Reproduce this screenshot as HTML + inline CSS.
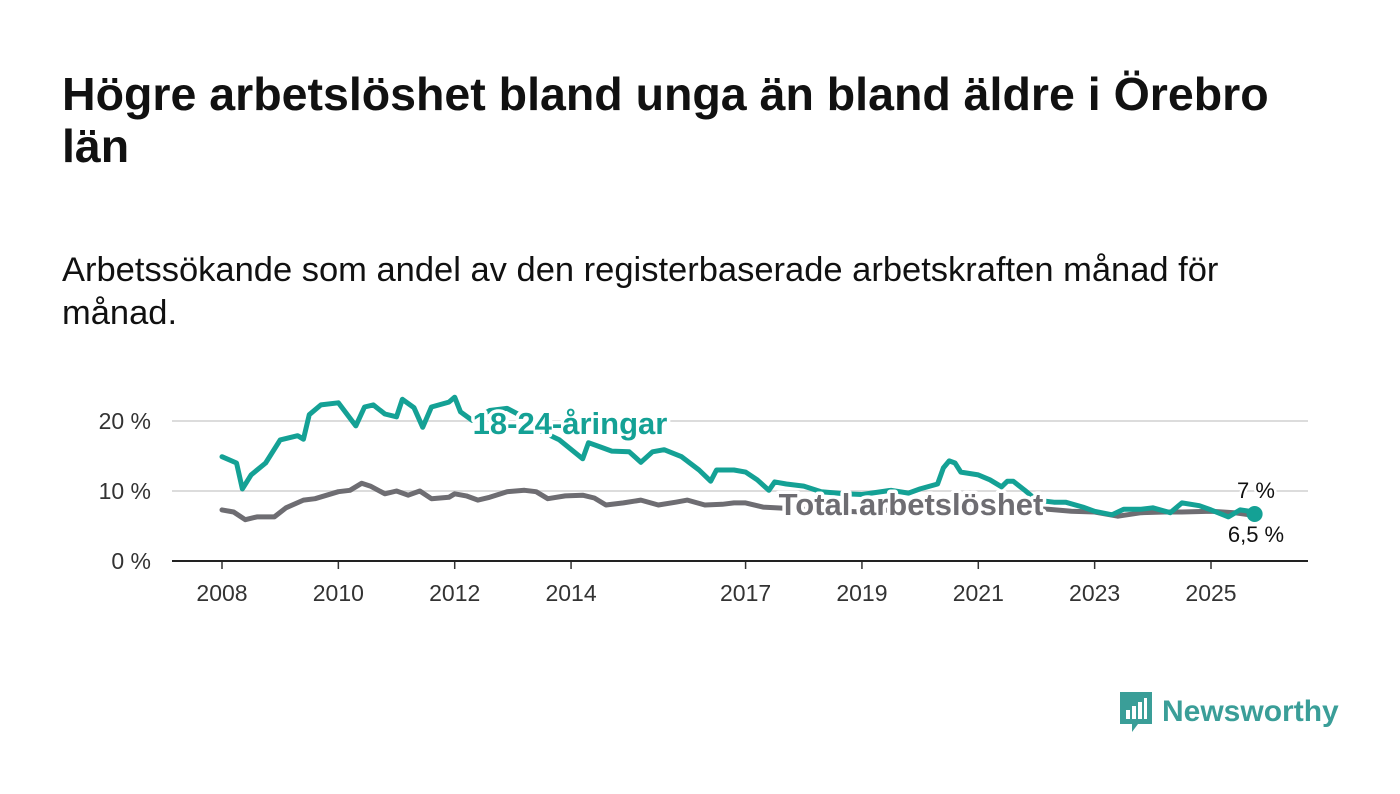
<!DOCTYPE html>
<html><head><meta charset="utf-8">
<style>
body{margin:0;width:1400px;height:794px;background:#fff;font-family:"Liberation Sans",sans-serif;position:relative;overflow:hidden}
h1{position:absolute;left:62px;top:68px;margin:0;font-size:46.5px;line-height:52px;font-weight:bold;color:#111}
p.sub{position:absolute;left:62px;top:249px;margin:0;font-size:34.5px;line-height:43px;color:#111}
svg{position:absolute;left:0;top:0}
.logo{position:absolute;left:1118px;top:690px;display:flex;align-items:center}
</style></head><body>
<h1>Högre arbetslöshet bland unga än bland äldre i Örebro<br>län</h1>
<p class="sub">Arbetssökande som andel av den registerbaserade arbetskraften månad för<br>månad.</p>
<svg id="chart" width="1400" height="794"></svg>
<div class="logo">
<svg width="36" height="44" style="position:static"><path d="M2 2h32v32H20l-6 8v-8H2z" fill="#3a9e98"/><rect x="8" y="20" width="4" height="9" fill="#fff"/><rect x="14" y="16" width="4" height="13" fill="#fff"/><rect x="20" y="12" width="4" height="17" fill="#fff"/><rect x="26" y="8" width="3" height="21" fill="#fff"/></svg>
<span style="font-size:30px;font-weight:bold;color:#3a9e98;margin-left:8px">Newsworthy</span>
</div>
<script>
const youthX=[2008.0,2008.25,2008.35,2008.5,2008.75,2009.0,2009.3,2009.4,2009.5,2009.7,2010.0,2010.3,2010.45,2010.6,2010.8,2011.0,2011.1,2011.3,2011.45,2011.6,2011.9,2012.0,2012.1,2012.3,2012.6,2012.9,2013.2,2013.5,2013.8,2014.2,2014.3,2014.5,2014.7,2015.0,2015.2,2015.4,2015.6,2015.9,2016.2,2016.4,2016.5,2016.8,2017.0,2017.2,2017.4,2017.5,2017.7,2018.0,2018.3,2018.7,2019.0,2019.5,2019.8,2020.0,2020.3,2020.4,2020.5,2020.6,2020.7,2021.0,2021.2,2021.4,2021.5,2021.6,2021.8,2022.0,2022.3,2022.5,2022.8,2023.0,2023.3,2023.5,2023.8,2024.0,2024.3,2024.5,2024.8,2025.0,2025.3,2025.5,2025.75];
const youthV=[14.9,14,10.3,12.3,14,17.3,17.9,17.4,20.9,22.3,22.6,19.3,22,22.3,21,20.6,23.1,21.9,19.1,22,22.7,23.4,21.3,20.1,21.5,21.8,20.5,18.5,17.3,14.6,16.9,16.3,15.7,15.6,14.1,15.6,15.9,14.9,13,11.4,13,13,12.7,11.6,10.1,11.3,11,10.7,9.9,9.6,9.5,10.1,9.7,10.3,11,13.3,14.3,14,12.7,12.3,11.6,10.6,11.4,11.4,10.1,8.7,8.4,8.4,7.7,7.1,6.6,7.4,7.4,7.6,6.9,8.3,7.9,7.3,6.3,7.3,7];
const totalX=[2008.0,2008.2,2008.4,2008.6,2008.9,2009.1,2009.4,2009.6,2009.8,2010.0,2010.2,2010.4,2010.55,2010.8,2011.0,2011.2,2011.4,2011.6,2011.9,2012.0,2012.2,2012.4,2012.6,2012.9,2013.2,2013.4,2013.6,2013.9,2014.2,2014.4,2014.6,2014.9,2015.2,2015.5,2015.8,2016.0,2016.3,2016.6,2016.8,2017.0,2017.3,2018.0,2019.0,2020.0,2020.5,2021.0,2021.8,2022.2,2022.6,2023.0,2023.4,2023.8,2024.2,2024.5,2025.0,2025.4,2025.75];
const totalV=[7.3,7,5.9,6.3,6.3,7.6,8.7,8.9,9.4,9.9,10.1,11.1,10.7,9.6,10,9.4,10,8.9,9.1,9.6,9.3,8.7,9.1,9.9,10.1,9.9,8.9,9.3,9.4,9,8,8.3,8.7,8,8.4,8.7,8,8.1,8.3,8.3,7.7,7.4,7,7.6,8.6,8,7.5,7.4,7.1,7,6.4,6.9,7,7,7.1,6.9,6.5];
const yTicks=[0,10,20];
const xTicks=[2008,2010,2012,2014,2017,2019,2021,2023,2025];
const NS='http://www.w3.org/2000/svg';
const svg=document.getElementById('chart');
const X=v=>222+(v-2008)*(1211-222)/17;
const Y=v=>561-v*7;
function mk(t,a){const e=document.createElementNS(NS,t);for(const k in a)e.setAttribute(k,a[k]);svg.appendChild(e);return e;}
yTicks.forEach(t=>{
 if(t>0){const g=mk('line',{x1:172,x2:1308,y1:Y(t),y2:Y(t),stroke:'#dcdcdc','stroke-width':2});
 
 }
 const l=mk('text',{x:151,y:Y(t)+8,'text-anchor':'end','font-size':23,fill:'#333'});l.textContent=t+' %';
 
 
});
xTicks.forEach(t=>{
 const tk=mk('line',{x1:X(t),x2:X(t),y1:561,y2:569,stroke:'#333','stroke-width':1.5});
 
 
 const l=mk('text',{x:X(t),y:601,'text-anchor':'middle','font-size':23,fill:'#333'});l.textContent=t;
 
 
});
const ax=mk('line',{x1:172,x2:1308,y1:561,y2:561,stroke:'#222','stroke-width':2});


function line(xs,vs,c,n){const p=mk('polyline',{points:xs.map((x,i)=>X(x)+','+Y(vs[i])).join(' '),fill:'none',stroke:c,'stroke-width':5,'stroke-linejoin':'round','stroke-linecap':'round'});
 
 }
line(totalX,totalV,'#6e6d72','line-total');
line(youthX,youthV,'#14a195','line-youth');
const d=mk('circle',{cx:X(youthX[youthX.length-1]),cy:Y(youthV[youthV.length-1])+2,r:8,fill:'#14a195'});


function lab(x,y,t,c,n,anchor,size,bold){const e=mk('text',{x:x,y:y,'text-anchor':anchor,'font-size':size,'font-weight':bold?'bold':'normal',fill:c,stroke:'#fff','stroke-width':bold?7:5,'paint-order':'stroke','stroke-linejoin':'round'});e.textContent=t;
 
 }
lab(570,434,'18-24-åringar','#14a195','label-youth','middle',31,true);
lab(911,515,'Total arbetslöshet','#6e6d72','label-total','middle',31,true);
lab(1256,498,'7 %','#111','value-youth','middle',22,false);
lab(1256,542,'6,5 %','#111','value-total','middle',22,false);
</script>
</body></html>
